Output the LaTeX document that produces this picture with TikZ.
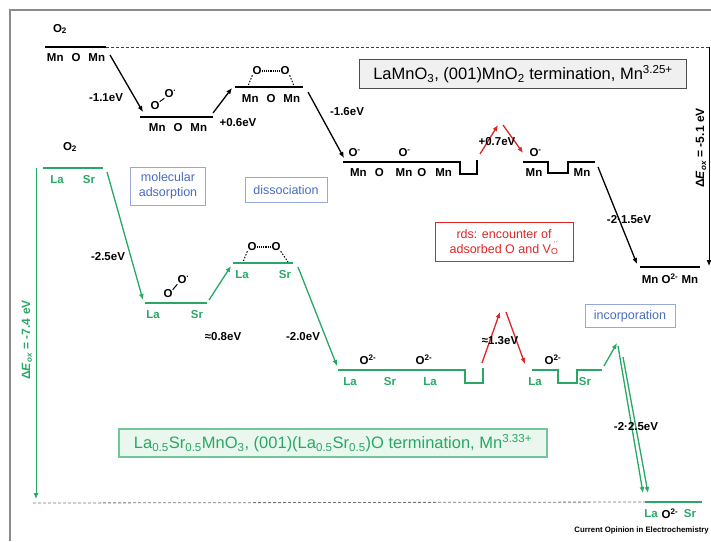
\documentclass[tikz,border=0pt]{standalone}
\usepackage{fontspec}
\setmainfont{Liberation Sans}
\usetikzlibrary{arrows.meta}

\definecolor{lsm}{RGB}{40,168,100}
\definecolor{lsmfill}{RGB}{234,247,238}
\definecolor{rds}{RGB}{222,38,38}
\definecolor{stagetext}{RGB}{72,108,190}
\definecolor{stageframe}{RGB}{150,170,222}
\definecolor{framegray}{RGB}{140,140,140}

\begin{document}
\begin{tikzpicture}[x=1pt, y=-1pt,
    every node/.style={inner sep=0pt},
    atom/.style={font=\bfseries\fontsize{11.5}{13}\selectfont},
    gatom/.style={atom, text=lsm},
    level/.style={line width=1.4pt},
    glevel/.style={level, draw=lsm},
    hop/.style={-{Latex[length=6pt,width=5pt]}, line width=1.3pt},
    ghop/.style={hop, draw=lsm},
    rhop/.style={hop, draw=rds},
    leg/.style={dash pattern=on 1.5pt off 1.5pt, line width=1pt},
    bond/.style={densely dotted, line width=1.2pt},
    stage/.style={draw=stageframe, text=stagetext, line width=0.8pt,
        font=\fontsize{12.5}{15}\selectfont, align=center},
    title/.style={font=\fontsize{16.5}{18}\selectfont, line width=1.2pt}
]
    \useasboundingbox (0,0) rectangle (711,541);
    \draw[framegray, line width=1.5pt] (10,541) -- (10,10) -- (711,10);

    % LaMnO3, MnO2 termination
    \node[atom] (mO2) at (60,29) {O\textsubscript{2}};
    \coordinate (m0a) at (45,47);
    \coordinate (m0b) at (106,47);
    \coordinate (mend) at (709,47);
    \draw[level] (m0a) -- (m0b);
    \draw[dash pattern=on 3pt off 2pt, black!75, line width=0.8pt] (m0b) -- (mend);
    \node[atom] (m0) at (76,58) {Mn\hspace{8pt}O\hspace{8pt}Mn};

    \coordinate (m1a) at (140,117);
    \coordinate (m1b) at (213,117);
    \draw[level] (m1a) -- (m1b);
    \node[atom] (m1) at (178,128) {Mn\hspace{8pt}O\hspace{8pt}Mn};
    \node[atom] (m1p) at (155,106) {O};
    \node[atom] (m1q) at (169,94) {O\rlap{\textsuperscript{·}}};
    \draw[line width=1pt] (m1p.north east) -- (m1q.south west);

    \coordinate (m2a) at (235,87);
    \coordinate (m2b) at (303,87);
    \draw[level] (m2a) -- (m2b);
    \node[atom] (m2) at (271,99) {Mn\hspace{8pt}O\hspace{8pt}Mn};
    \node[atom] (m2p) at (257,71) {O};
    \node[atom] (m2q) at (285,71) {O};
    \coordinate (m2l) at (248,86);
    \coordinate (m2r) at (294,86);
    \draw[bond] (m2p) -- (m2q);
    \draw[leg] (m2p.south west) -- (m2l);
    \draw[leg] (m2q.south east) -- (m2r);

    \coordinate (m3a) at (343,162);
    \coordinate (m3b) at (460,162);
    \coordinate (m3c) at (477,174);
    \coordinate (m3d) at (477,160);
    \draw[level] (m3a) -- (m3b) |- (m3c) -- (m3d);
    \node[atom] (m3p) at (353,153) {O\rlap{\textsuperscript{-}}};
    \node[atom] (m3q) at (403,153) {O\rlap{\textsuperscript{-}}};
    \node[atom] (m3) at (401,173) {Mn\hspace{8pt}O\hspace{12pt}Mn\hspace{5pt}O\hspace{9pt}Mn};

    \coordinate (m4a) at (523,162);
    \coordinate (m4b) at (548,162);
    \coordinate (m4c) at (568,173);
    \coordinate (m4d) at (595,162);
    \draw[level] (m4a) -- (m4b) |- (m4c) |- (m4d);
    \node[atom] (m4p) at (534,153) {O\rlap{\textsuperscript{-}}};
    \node[atom] (m4l) at (534,173) {Mn};
    \node[atom] (m4r) at (582,173) {Mn};

    \coordinate (m5a) at (640,267);
    \coordinate (m5b) at (700,267);
    \draw[level] (m5a) -- (m5b);
    \node[atom] (m5) at (670,279) {Mn O\textsuperscript{2-} Mn};

    % steps
    \coordinate (h1s) at (110,55);  \coordinate (h1e) at (143,112);
    \coordinate (h2s) at (213,113); \coordinate (h2e) at (232,88);
    \coordinate (h3s) at (308,92);  \coordinate (h3e) at (344,158);
    \coordinate (h4s) at (480,154); \coordinate (h4e) at (498,125);
    \coordinate (h5s) at (503,125); \coordinate (h5e) at (523,153);
    \coordinate (h6s) at (598,167); \coordinate (h6e) at (637,264);
    \coordinate (mdE) at (709,266);
    \draw[hop] (h1s) -- (h1e);
    \draw[hop] (h2s) -- (h2e);
    \draw[hop] (h3s) -- (h3e);
    \draw[rhop] (h4s) -- (h4e);
    \draw[rhop] (h5s) -- (h5e);
    \draw[hop] (h6s) -- (h6e);
    \draw[hop, line width=1pt] (mend) -- (mdE);

    \node[atom] (e1) at (106,98) {-1.1eV};
    \node[atom] (e2) at (238,123) {+0.6eV};
    \node[atom] (e3) at (347,112) {-1.6eV};
    \node[atom] (e4) at (497,142) {+0.7eV};
    \node[atom] (e5) at (629,220) {-2·1.5eV};
    \node[atom, rotate=90, font=\bfseries\fontsize{12}{13}\selectfont] (mdElbl) at (701,148)
        {Δ\textit{E}\textsubscript{\textit{ox}} = -5.1 eV};

    \node[title, draw=black!70, fill=black!6, minimum width=327pt, minimum height=29pt] (mtitle)
        at (523,74) {LaMnO\textsubscript{3}, (001)MnO\textsubscript{2} termination, Mn\textsuperscript{3.25+}};

    % La0.5Sr0.5MnO3, (La,Sr)O termination
    \node[atom] (sO2) at (70,147) {O\textsubscript{2}};
    \coordinate (s0a) at (43,168);
    \coordinate (s0b) at (103,168);
    \draw[glevel] (s0a) -- (s0b);
    \node[gatom] (s0l) at (57,180) {La};
    \node[gatom] (s0r) at (89,180) {Sr};

    \coordinate (s1a) at (145,303);
    \coordinate (s1b) at (207,303);
    \draw[glevel] (s1a) -- (s1b);
    \node[gatom] (s1l) at (153,315) {La};
    \node[gatom] (s1r) at (197,315) {Sr};
    \node[atom] (s1p) at (168,294) {O};
    \node[atom] (s1q) at (182,280) {O\rlap{\textsuperscript{·}}};
    \draw[line width=1pt] (s1p.north east) -- (s1q.south west);

    \coordinate (s2a) at (233,263);
    \coordinate (s2b) at (293,263);
    \draw[glevel] (s2a) -- (s2b);
    \node[gatom] (s2l) at (242,275) {La};
    \node[gatom] (s2r) at (285,275) {Sr};
    \node[atom] (s2p) at (252,247) {O};
    \node[atom] (s2q) at (276,247) {O};
    \coordinate (s2x) at (243,262);
    \coordinate (s2y) at (288,262);
    \draw[bond] (s2p) -- (s2q);
    \draw[leg] (s2p.south west) -- (s2x);
    \draw[leg] (s2q.south east) -- (s2y);

    \coordinate (s3a) at (338,370);
    \coordinate (s3b) at (465,370);
    \coordinate (s3c) at (483,383);
    \coordinate (s3d) at (483,368);
    \draw[glevel] (s3a) -- (s3b) |- (s3c) -- (s3d);
    \node[atom] (s3p) at (368,360) {O\textsuperscript{2-}};
    \node[atom] (s3q) at (424,360) {O\textsuperscript{2-}};
    \node[gatom] (s3l) at (350,382) {La};
    \node[gatom] (s3m) at (390,382) {Sr};
    \node[gatom] (s3r) at (430,382) {La};

    \coordinate (s4a) at (532,370);
    \coordinate (s4b) at (558,370);
    \coordinate (s4c) at (577,383);
    \coordinate (s4d) at (602,370);
    \draw[glevel] (s4a) -- (s4b) |- (s4c) |- (s4d);
    \node[atom] (s4p) at (553,360) {O\textsuperscript{2-}};
    \node[gatom] (s4l) at (535,382) {La};
    \node[gatom] (s4r) at (585,382) {Sr};

    \coordinate (s5a) at (645,502);
    \coordinate (s5b) at (702,502);
    \coordinate (sbot) at (33,503);
    \draw[glevel] (s5a) -- (s5b);
    \draw[dash pattern=on 3pt off 2pt, black!55, line width=0.8pt] (sbot) -- (s5a);
    \node[gatom] (s5l) at (651,514) {La};
    \node[atom] (s5o) at (670,514) {O\textsuperscript{2-}};
    \node[gatom] (s5r) at (690,514) {Sr};

    % steps
    \coordinate (g1s) at (107,172); \coordinate (g1e) at (143,300);
    \coordinate (g2s) at (209,300); \coordinate (g2e) at (231,266);
    \coordinate (g3s) at (298,267); \coordinate (g3e) at (337,366);
    \coordinate (g4s) at (482,363); \coordinate (g4e) at (500,312);
    \coordinate (g5s) at (506,312); \coordinate (g5e) at (525,364);
    \coordinate (g6s) at (604,366); \coordinate (g6e) at (617,343);
    \coordinate (g7s) at (618,346); \coordinate (g7e) at (643,493);
    \coordinate (g8s) at (623,357); \coordinate (g8e) at (648,493);
    \coordinate (sdEs) at (36,168); \coordinate (sdEe) at (36,499);
    \draw[ghop] (g1s) -- (g1e);
    \draw[ghop] (g2s) -- (g2e);
    \draw[ghop] (g3s) -- (g3e);
    \draw[rhop] (g4s) -- (g4e);
    \draw[rhop] (g5s) -- (g5e);
    \draw[ghop] (g6s) -- (g6e);
    \draw[ghop] (g7s) -- (g7e);
    \draw[ghop] (g8s) -- (g8e);
    \draw[ghop, line width=1pt] (sdEs) -- (sdEe);

    \node[atom] (f1) at (108,257) {-2.5eV};
    \node[atom] (f2) at (223,337) {≈0.8eV};
    \node[atom] (f3) at (303,337) {-2.0eV};
    \node[atom] (f4) at (500,341) {≈1.3eV};
    \node[atom] (f5) at (636,427) {-2·2.5eV};
    \node[gatom, rotate=90, font=\bfseries\fontsize{12}{13}\selectfont] (sdElbl) at (27,340)
        {Δ\textit{E}\textsubscript{\textit{ox}} = -7.4 eV};

    \node[title, draw=lsm!65, fill=lsmfill, text=lsm, minimum width=428pt, minimum height=28pt] (stitle)
        at (333,443) {La\textsubscript{0.5}Sr\textsubscript{0.5}MnO\textsubscript{3}, (001)(La\textsubscript{0.5}Sr\textsubscript{0.5})O termination, Mn\textsuperscript{3.33+}};

    % stages
    \node[stage, minimum width=75pt, minimum height=38pt] (adsorb) at (168,186) {molecular\\adsorption};
    \node[stage, minimum width=82pt, minimum height=25pt] (dissoc) at (286,190) {dissociation};
    \node[stage, draw=rds, text=rds, minimum width=138pt, minimum height=39pt] (rdsbox) at (504,242)
        {rds: encounter of\\adsorbed O and V\textsubscript{O}\llap{\raisebox{1.3ex}{\fontsize{8}{8}\selectfont ··}}};
    \node[stage, minimum width=90pt, minimum height=23pt] (incorp) at (630,316) {incorporation};

    \node[anchor=east, font=\bfseries\fontsize{7.8}{9}\selectfont] (credit) at (709,530)
        {Current Opinion in Electrochemistry};
\end{tikzpicture}
\end{document}
